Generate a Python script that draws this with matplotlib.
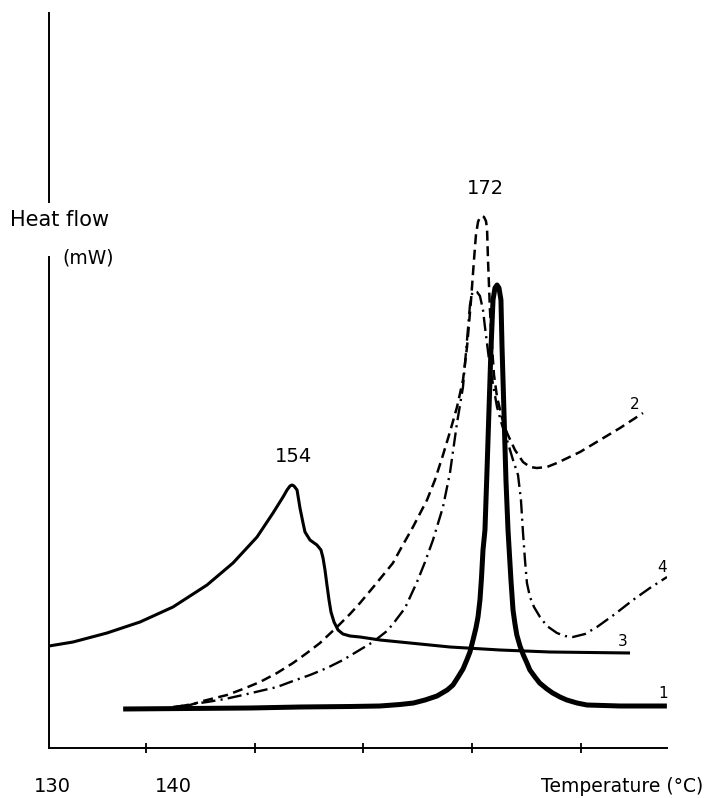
import matplotlib
matplotlib.use("Agg")
import matplotlib.pyplot as plt

# ---- data (temperature in degC, heat flow in arbitrary mW units) ----
# curve 1 (thick solid)
t1 = [137.9, 149.6, 154.16, 158.76, 161.5, 163.36, 164.6, 165.66, 166.76, 167.7, 168.23, 168.7,
      169.15, 169.5, 169.79, 170.07, 170.34, 170.53, 170.71, 170.85, 170.99,
      171.17, 171.36, 171.54, 171.72, 171.91, 172.09, 172.28, 172.46, 172.64, 172.74, 172.92,
      173.10, 173.29, 173.56, 173.75, 173.93, 174.1, 174.39, 174.7, 175.03, 175.3, 175.77,
      176.2, 176.87, 177.4, 178.07, 178.7, 179.63, 180.55, 183.59, 187.9]
h1 = [3.9, 4.0, 4.1, 4.15, 4.2, 4.35, 4.5, 4.8, 5.2, 5.8, 6.3, 7.1,
      7.9, 8.8, 9.6, 10.8, 12.0, 13.1, 14.8, 17.0, 19.8,
      21.8, 27.8, 33.8, 39.8, 44.8, 46.0, 46.3, 46.0, 44.8, 40.1, 33.5,
      26.8, 21.8, 16.8, 13.8, 12.4, 11.3, 10.2, 9.3, 8.5, 7.8, 7.1,
      6.5, 5.9, 5.5, 5.1, 4.8, 4.5, 4.3, 4.2, 4.2]

# curve 2 (dashed)
t2 = [142.48, 144.05, 145.24, 147.45, 148.92, 150.48, 152.05, 153.52, 154.80, 156.00, 157.56,
      158.76, 159.68, 161.06, 162.71, 163.36, 164.55, 165.84, 166.57, 167.31, 167.95, 168.60,
      169.15, 169.52, 169.89, 170.16, 170.34, 170.53, 170.71, 170.90, 171.08, 171.26, 171.36,
      171.45, 171.63, 171.82, 172.00, 172.28, 172.74, 173.20, 173.93, 174.67, 175.31, 175.95,
      176.87, 177.79, 179.91, 181.75, 183.59, 185.70]
h2 = [4.1, 4.3, 4.7, 5.3, 5.9, 6.6, 7.5, 8.5, 9.5, 10.5, 12.1,
      13.4, 14.5, 16.3, 18.5, 19.8, 22.1, 24.8, 26.8, 29.3, 31.6, 34.1,
      36.8, 40.1, 44.8, 48.8, 51.3, 52.6, 53.1, 53.2, 53.1, 52.7, 52.0,
      48.8, 43.8, 40.1, 37.3, 35.1, 33.0, 31.5, 29.8, 28.6, 28.1, 28.0,
      28.1, 28.5, 29.6, 30.8, 32.0, 33.5]

# curve 3 (medium solid)
t3 = [131.08, 133.29, 136.41, 139.45, 142.48, 145.61, 148.00, 150.21, 151.68, 152.60, 152.97,
      153.24, 153.43, 153.61, 153.89, 154.16, 154.44, 154.62, 155.08, 155.72, 156.09, 156.28,
      156.46, 156.64, 156.83, 157.01, 157.29, 157.66, 158.11, 158.76, 159.68, 161.52, 163.36,
      167.95, 172.55, 177.15, 184.51]
h3 = [10.2, 10.6, 11.5, 12.6, 14.1, 16.3, 18.5, 21.1, 23.5, 25.1, 25.8,
      26.2, 26.3, 26.2, 25.8, 24.0, 22.5, 21.6, 20.8, 20.3, 19.8, 19.0,
      17.8, 16.3, 14.8, 13.6, 12.6, 11.8, 11.4, 11.2, 11.1, 10.8, 10.6,
      10.1, 9.8, 9.6, 9.5]

# curve 4 (dash-dot)
t4 = [142.67, 144.32, 145.61, 147.26, 148.92, 150.48, 152.05, 153.52, 155.08, 156.64, 158.11,
      159.49, 160.87, 162.16, 162.71, 163.82, 164.92, 165.66, 166.39, 167.31, 167.95, 168.60,
      169.15, 169.52, 169.79, 169.98, 170.16, 170.44, 170.71, 170.99, 171.17, 171.63, 172.28,
      172.74, 173.20, 173.75, 174.21, 174.48, 174.67, 174.85, 175.03, 175.31, 175.68, 176.23,
      176.87, 177.79, 178.53, 179.26, 180.37, 181.47, 183.13, 184.78, 186.34, 187.91]
h4 = [4.1, 4.4, 4.6, 4.9, 5.3, 5.7, 6.1, 6.7, 7.3, 8.0, 8.8,
      9.7, 10.6, 11.7, 12.4, 14.0, 16.6, 18.6, 20.8, 24.1, 27.5, 32.5,
      36.1, 40.8, 44.3, 45.4, 45.7, 45.6, 45.2, 43.8, 42.1, 38.1, 34.1,
      32.3, 30.8, 28.8, 27.3, 24.8, 21.5, 18.8, 16.5, 15.1, 14.1, 13.1,
      12.2, 11.5, 11.2, 11.1, 11.4, 12.1, 13.4, 14.8, 16.0, 17.1]

x_ticks = [140, 150, 160, 170, 180]
x_labels = ["130", "140"]
peak_labels = ["154", "172"]
curve_ids = ["1", "2", "3", "4"]

plt.rcParams['font.family'] = ['DejaVu Sans']

fig = plt.figure(figsize=(7.07, 7.98), dpi=100)
ax = fig.add_axes([49/707, 1-748/798, (667-49)/707, (748-13)/798])
xmin, xmax, ymin, ymax = 131.08, 187.91, 0, 73.5
ax.set_xlim(xmin, xmax)
ax.set_ylim(ymin, ymax)

k = 'black'
ax.plot(t3, h3, color=k, lw=2.2, solid_capstyle='butt', solid_joinstyle='round')
l2, = ax.plot(t2, h2, color=k, lw=1.8, linestyle='--')
l2.set_dashes((4, 2.2))
l4, = ax.plot(t4, h4, color=k, lw=1.7, linestyle='-.')
l4.set_dashes((6, 2.2, 0.9, 2.2))
ax.plot(t1, h1, color=k, lw=3.6, solid_capstyle='butt', solid_joinstyle='round')

# axes styling
for s in ['top', 'right']:
    ax.spines[s].set_visible(False)
ax.spines['bottom'].set_linewidth(1.4)
ax.spines['left'].set_linewidth(1.4)
ax.spines['left'].set_bounds(0, 49.1)
ax.axvline(xmin, ymin=54.6/ymax, ymax=1.0, color=k, lw=1.4, clip_on=False)
ax.set_yticks([])
ax.set_xticks(x_ticks)
ax.set_xticklabels([])
ax.tick_params(axis='x', direction='inout', length=7, width=1.3)

fs = 14
ax.text(131.36, -3.9, x_labels[0], ha='center', va='center', fontsize=fs)
ax.text(142.48, -3.9, x_labels[1], ha='center', va='center', fontsize=fs)
ax.text(191.2, -3.9, "Temperature (°C)", ha='right', va='center', fontsize=13.5, clip_on=False)
ax.text(127.5, 52.8, "Heat flow", ha='left', va='center', fontsize=15, clip_on=False)
ax.text(132.28, 49.0, "(mW)", ha='left', va='center', fontsize=13.5)

ax.text(153.52, 29.1, peak_labels[0], ha='center', va='center', fontsize=fs)
ax.text(171.17, 56.0, peak_labels[1], ha='center', va='center', fontsize=fs)

sf = 11
ax.text(187.54, 5.4, curve_ids[0], ha='center', va='center', fontsize=sf, clip_on=False)
ax.text(184.97, 34.3, curve_ids[1], ha='center', va='center', fontsize=sf)
ax.text(183.86, 10.6, curve_ids[2], ha='center', va='center', fontsize=sf)
ax.text(187.45, 18.0, curve_ids[3], ha='center', va='center', fontsize=sf, clip_on=False)

fig.savefig("out.png", dpi=100)
